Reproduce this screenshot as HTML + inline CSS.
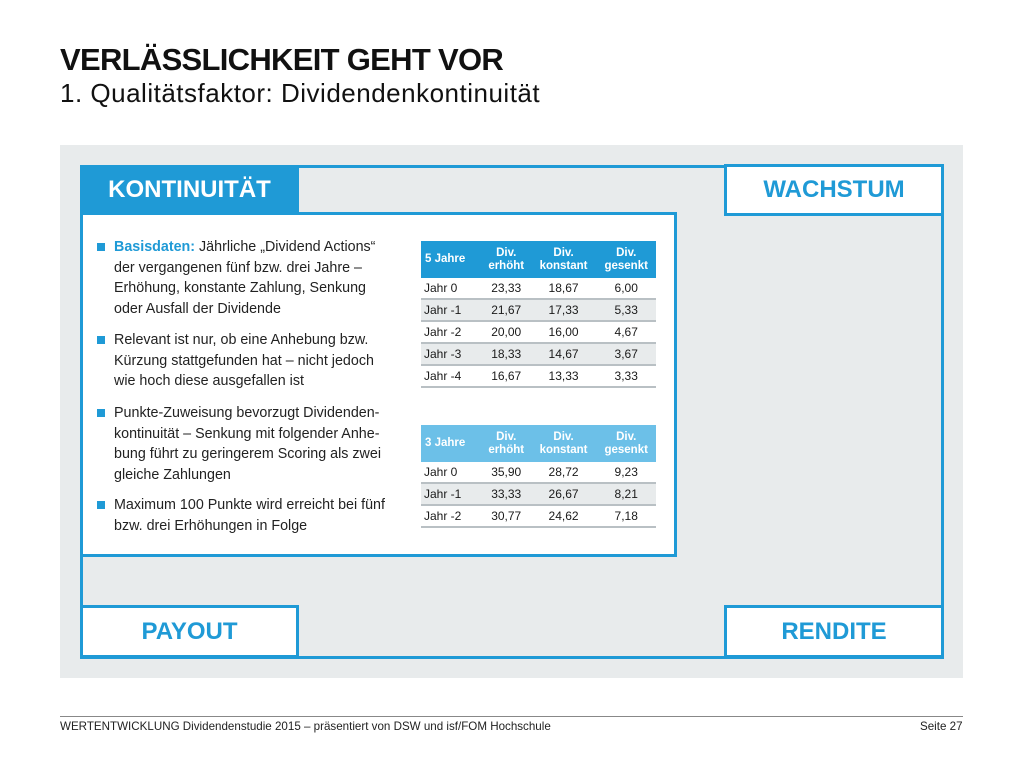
<!DOCTYPE html>
<html><head><meta charset="utf-8"><style>
body{margin:0;width:1024px;height:768px;background:#fff;font-family:"Liberation Sans",sans-serif;position:relative;overflow:hidden;color:#1a1a1a}
.a{position:absolute}
.t1{left:60px;top:42px;font-size:31px;font-weight:bold;letter-spacing:-0.7px;color:#111}
.t2{left:60px;top:78px;font-size:26px;color:#111;letter-spacing:0.5px}
.panel{left:60px;top:145px;width:903px;height:533px;background:#e8ebec}
.frame{left:80px;top:165px;width:858px;height:488px;border:3px solid #1f9ad6}
.box{background:#fff;border:3px solid #1f9ad6;color:#1f9ad6;font-weight:bold;font-size:24px;text-align:center;box-sizing:border-box}
.hdr{left:80px;top:165px;width:219px;height:49px;background:#1f9ad6;color:#fff;font-weight:bold;font-size:24px;line-height:49px;text-align:center}
.cont{left:80px;top:212px;width:597px;height:345px;background:#fff;border:3px solid #1f9ad6;box-sizing:border-box}
.bul{left:114px;font-size:14.3px;line-height:20.5px;color:#222;width:300px;white-space:nowrap}
.sq{position:absolute;left:-17px;top:6px;width:8px;height:8px;background:#1f9ad6}
table{border-collapse:collapse;font-size:12px;position:absolute;width:235px}
th{color:#fff;font-weight:bold;font-size:11.5px;line-height:13px;text-align:center;padding:0}
th:first-child{text-align:left;padding-left:4px}
td{height:20px;border-bottom:2px solid #b9c0c4;text-align:center;padding:0}
td:first-child{text-align:left;padding-left:3px}
tr.g td{background:#e8ebec}
.foot{left:60px;top:720px;font-size:11.6px;color:#222}
</style></head><body>
<div class="a t1">VERLÄSSLICHKEIT GEHT VOR</div>
<div class="a t2">1. Qualitätsfaktor: Dividendenkontinuität</div>
<div class="a panel"></div>
<div class="a frame"></div>
<div class="a hdr">KONTINUITÄT</div>
<div class="a box" style="left:724px;top:164px;width:220px;height:52px;line-height:46px">WACHSTUM</div>
<div class="a box" style="left:80px;top:605px;width:219px;height:53px;line-height:47px">PAYOUT</div>
<div class="a box" style="left:724px;top:605px;width:220px;height:53px;line-height:47px">RENDITE</div>
<div class="a cont"></div>
<div class="a bul" style="top:237px"><span class="sq"></span><b style="color:#1f9ad6">Basisdaten:</b> Jährliche „Dividend Actions“<br>der vergangenen fünf bzw. drei Jahre –<br>Erhöhung, konstante Zahlung, Senkung<br>oder Ausfall der Dividende</div>
<div class="a bul" style="top:330px"><span class="sq"></span>Relevant ist nur, ob eine Anhebung bzw.<br>Kürzung stattgefunden hat – nicht jedoch<br>wie hoch diese ausgefallen ist</div>
<div class="a bul" style="top:403px"><span class="sq"></span>Punkte-Zuweisung bevorzugt Dividenden-<br>kontinuität – Senkung mit folgender Anhe-<br>bung führt zu geringerem Scoring als zwei<br>gleiche Zahlungen</div>
<div class="a bul" style="top:495px"><span class="sq"></span>Maximum 100 Punkte wird erreicht bei fünf<br>bzw. drei Erhöhungen in Folge</div>
<table style="left:421px;top:241px">
<tr style="background:#1f9ad6;height:37px"><th>5 Jahre</th><th>Div.<br>erhöht</th><th>Div.<br>konstant</th><th>Div.<br>gesenkt</th></tr>
<tr><td>Jahr 0</td><td>23,33</td><td>18,67</td><td>6,00</td></tr>
<tr class="g"><td>Jahr -1</td><td>21,67</td><td>17,33</td><td>5,33</td></tr>
<tr><td>Jahr -2</td><td>20,00</td><td>16,00</td><td>4,67</td></tr>
<tr class="g"><td>Jahr -3</td><td>18,33</td><td>14,67</td><td>3,67</td></tr>
<tr><td>Jahr -4</td><td>16,67</td><td>13,33</td><td>3,33</td></tr>
</table>
<table style="left:421px;top:425px">
<tr style="background:#6cc0e8;height:37px"><th>3 Jahre</th><th>Div.<br>erhöht</th><th>Div.<br>konstant</th><th>Div.<br>gesenkt</th></tr>
<tr><td>Jahr 0</td><td>35,90</td><td>28,72</td><td>9,23</td></tr>
<tr class="g"><td>Jahr -1</td><td>33,33</td><td>26,67</td><td>8,21</td></tr>
<tr><td>Jahr -2</td><td>30,77</td><td>24,62</td><td>7,18</td></tr>
</table>
<div class="a" style="left:60px;top:716px;width:903px;height:1px;background:#888"></div>
<div class="a foot">WERTENTWICKLUNG Dividendenstudie 2015 – präsentiert von DSW und isf/FOM Hochschule</div>
<div class="a foot" style="left:920px">Seite 27</div>
</body></html>
